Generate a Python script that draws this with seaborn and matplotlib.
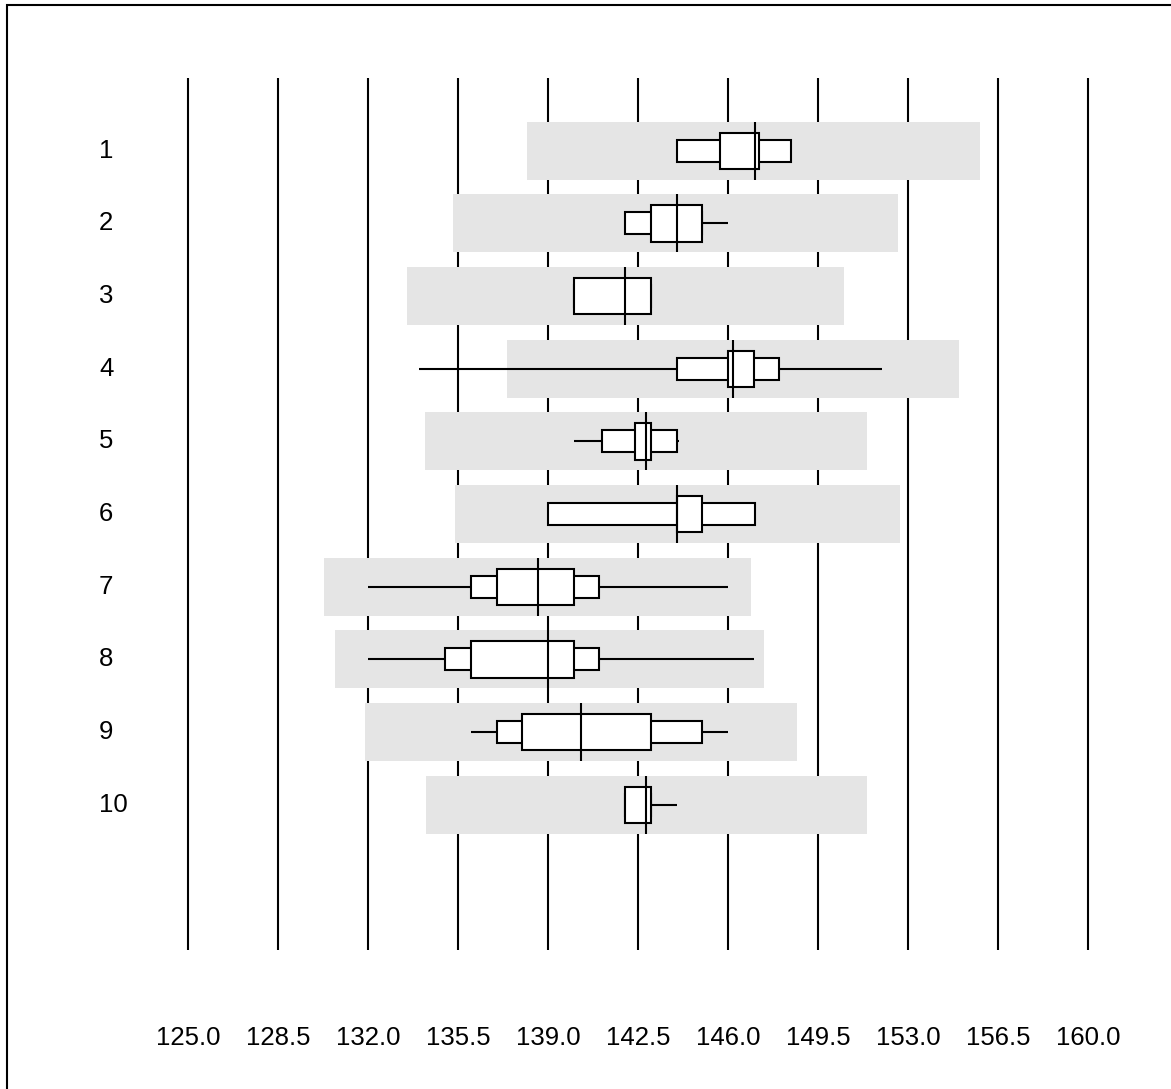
import numpy as np
import seaborn as sns
import matplotlib
matplotlib.use("Agg")
import matplotlib.pyplot as plt
from matplotlib.patches import Rectangle
from matplotlib.transforms import blended_transform_factory

# ---- data ----
rows = [1, 2, 3, 4, 5, 6, 7, 8, 9, 10]
band_lo = [138.2, 135.3, 133.5, 137.4, 134.2, 135.4, 130.3, 130.7, 131.9, 134.25]
band_hi = [155.8, 152.6, 150.5, 155.0, 151.4, 152.7, 146.9, 147.4, 148.7, 151.4]
whisk_lo = [144.0, 142.0, 140.0, 134.0, 140.0, 139.0, 132.0, 132.0, 136.0, 142.0]
whisk_hi = [148.45, 146.0, 143.0, 152.0, 144.1, 147.05, 146.0, 147.0, 146.0, 144.0]
outer_lo = [144.0, 142.0, 140.0, 144.0, 141.1, 139.0, 136.0, 135.0, 137.0, 142.0]
outer_hi = [148.45, 145.0, 143.0, 148.0, 144.0, 147.05, 141.0, 141.0, 145.0, 143.0]
inner_lo = [145.7, 143.0, 140.0, 146.0, 142.4, 144.0, 137.0, 136.0, 138.0, 142.0]
inner_hi = [147.2, 145.0, 143.0, 147.0, 143.0, 145.0, 140.0, 140.0, 143.0, 143.0]
median = [147.05, 144.0, 142.0, 146.2, 142.8, 144.0, 138.6, 139.0, 140.3, 142.8]
xticks = [125.0, 128.5, 132.0, 135.5, 139.0, 142.5, 146.0, 149.5, 153.0, 156.5, 160.0]

sns.set_theme(style="white")
plt.rcParams["font.family"] = ["Liberation Sans", "DejaVu Sans"]
plt.rcParams["text.color"] = "black"
plt.rcParams["xtick.color"] = "black"

W, H = 1171, 1089
fig = plt.figure(figsize=(W / 100, H / 100), dpi=100)
ax = fig.add_axes([188 / W, 139 / H, 900 / W, 872 / H])

y = np.array(rows, dtype=float)
lw = 1.5

# vertical reference lines
ax.vlines(xticks, 0, 12, color="black", lw=lw, zorder=1, clip_on=False)

# grey range bands
ax.barh(y, np.subtract(band_hi, band_lo), left=band_lo, height=0.8,
        color="#e5e5e5", edgecolor="none", zorder=2)
# whiskers
ax.hlines(y, whisk_lo, whisk_hi, color="black", lw=lw, zorder=3)
# outer boxes
ax.barh(y, np.subtract(outer_hi, outer_lo), left=outer_lo, height=0.3,
        color="white", edgecolor="black", linewidth=lw, zorder=4)
# inner boxes
ax.barh(y, np.subtract(inner_hi, inner_lo), left=inner_lo, height=0.5,
        color="white", edgecolor="black", linewidth=lw, zorder=5)
# medians
ax.vlines(median, y - 0.4, y + 0.4, color="black", lw=lw, zorder=6)

ax.set_xlim(125, 160)
ax.set_ylim(12, 0)
ax.set_yticks([])
ax.set_xticks(xticks)
ax.set_xticklabels([f"{t:.1f}" for t in xticks], fontsize=18.5, color="black")
ax.tick_params(axis="x", length=0, pad=55)
sns.despine(ax=ax, left=True, bottom=True)

# row labels
tr = blended_transform_factory(fig.transFigure, ax.transData)
for r in rows:
    ax.text(99 / W, r, str(r), transform=tr, ha="left", va="center",
            fontsize=18.5, color="black")

# outer frame
fig.patches.append(Rectangle((7 / W, -0.1), 1.2, 1 - 5 / H + 0.1,
                             transform=fig.transFigure, fill=False,
                             edgecolor="black", linewidth=1.5))

fig.savefig("out.png", dpi=100)
